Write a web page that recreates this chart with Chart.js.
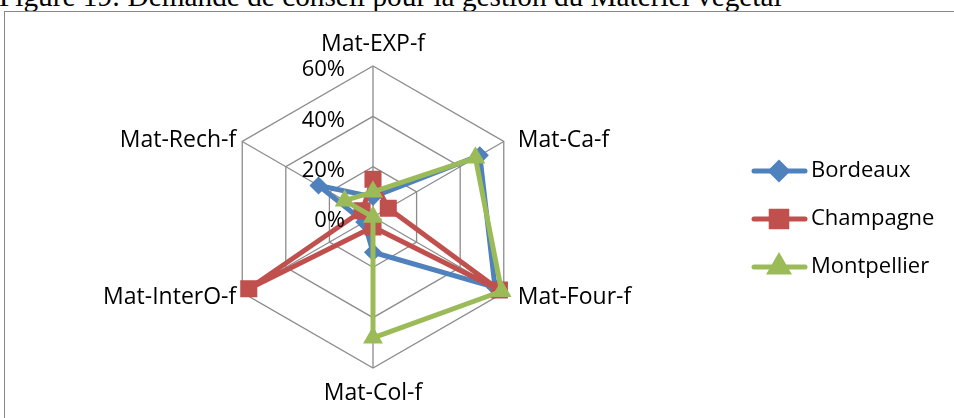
<!DOCTYPE html>
<html><head><meta charset="utf-8">
<script src="https://cdn.jsdelivr.net/npm/chart.js@4.4.1/dist/chart.umd.min.js"></script>
<style>
html,body{margin:0;padding:0;background:#fff;overflow:hidden;width:954px;height:418px;}
#title{position:absolute;left:-1px;top:-20px;font:29.3px "Liberation Serif";white-space:nowrap;color:#000;line-height:33px;}
#frame{position:absolute;left:4px;top:11px;width:1000px;height:500px;border:1.5px solid #888;box-sizing:border-box;}
#wrap{position:absolute;left:0;top:0;width:954px;height:418px;}
</style></head><body>
<div id="title">Figure 19: Demande de conseil pour la gestion du Matériel végétal</div>
<div id="frame"></div>
<div id="wrap"><canvas id="c" width="954" height="418"></canvas></div>
<script>
const categories = ['Mat-EXP-f','Mat-Ca-f','Mat-Four-f','Mat-Col-f','Mat-InterO-f','Mat-Rech-f'];
const bordeaux = [8, 49, 56, 14, 4, 25];
const champagne = [15, 7, 58, 4, 57, 5];
const montpellier = [10, 47, 59, 48, 0, 13];
const seriesNames = ['Bordeaux', 'Champagne', 'Montpellier'];
const seriesColors = ['#4F81BD', '#C0504D', '#9BBB59'];
const tickValues = [0, 20, 40, 60];
const tickLabels = ['0%', '20%', '40%', '60%'];

const markers = [
  {style:'rectRot', radius:8},
  {style:'rect', radius:11},
  {style:'triangle', radius:10}
];
const seriesData = [bordeaux, champagne, montpellier];

const datasets = seriesNames.map((n, i) => ({
  label: n,
  data: seriesData[i],
  borderColor: seriesColors[i],
  backgroundColor: 'transparent',
  fill: false,
  borderWidth: 5,
  borderJoinStyle: 'round',
  borderCapStyle: 'round',
  pointStyle: markers[i].style,
  pointRadius: markers[i].radius,
  pointBackgroundColor: seriesColors[i],
  pointBorderColor: seriesColors[i],
  pointBorderWidth: 1.5,
  order: 3 - i
}));

const labelPlugin = {
  id: 'labels',
  afterDraw(chart) {
    const ctx = chart.ctx;
    const s = chart.scales.r;
    ctx.save();
    ctx.fillStyle = '#000';
    // tick labels
    ctx.font = '22px "Open Sans"';
    ctx.textAlign = 'right';
    ctx.textBaseline = 'middle';
    tickValues.forEach((v, k) => {
      const d = s.getDistanceFromCenterForValue(v);
      ctx.fillText(tickLabels[k], s.xCenter - 28, s.yCenter - d + 4);
    });
    // point labels
    ctx.font = '23px "Open Sans"';
    categories.forEach((lab, i) => {
      const p = s.getPointPosition(i, s.drawingArea);
      let x = p.x, y = p.y, align;
      if (i === 0) { align = 'center'; y = p.y - 22; }
      else if (i === 3) { align = 'center'; y = p.y + 25; }
      else if (i < 3) { align = 'left'; x = p.x + 14; y = p.y + (i === 1 ? -1 : 5); }
      else { align = 'right'; x = p.x - 6; y = p.y + (i === 4 ? 5 : -1); }
      ctx.textAlign = align;
      ctx.fillText(lab, x, y);
    });
    // legend
    const ly = [171, 219, 267];
    seriesNames.forEach((n, i) => {
      const y = ly[i];
      ctx.strokeStyle = seriesColors[i];
      ctx.lineWidth = 5;
      ctx.lineCap = 'round';
      ctx.beginPath(); ctx.moveTo(754, y); ctx.lineTo(805, y); ctx.stroke();
      ctx.fillStyle = seriesColors[i];
      Chart.helpers.drawPoint(ctx, {pointStyle: markers[i].style, radius: markers[i].radius, borderWidth: 1.5, rotation: 0}, 779, y);
      ctx.fill();
      ctx.fillStyle = '#000';
      ctx.font = '22px "Open Sans"';
      ctx.textAlign = 'left';
      ctx.textBaseline = 'middle';
      ctx.fillText(n, 811, y);
    });
    ctx.restore();
  }
};

new Chart(document.getElementById('c'), {
  type: 'radar',
  data: { labels: categories, datasets: datasets },
  options: {
    responsive: false,
    animation: false,
    layout: { padding: { left: 222, right: 430, top: 66, bottom: 50 } },
    plugins: { legend: { display: false }, tooltip: { enabled: false } },
    scales: {
      r: {
        min: 0, max: 60,
        ticks: { stepSize: 20, display: false },
        grid: { color: '#8c8c8c', lineWidth: 1.3 },
        angleLines: { color: '#8c8c8c', lineWidth: 1.3 },
        pointLabels: { display: false }
      }
    }
  },
  plugins: [labelPlugin]
});
</script>
</body></html>
